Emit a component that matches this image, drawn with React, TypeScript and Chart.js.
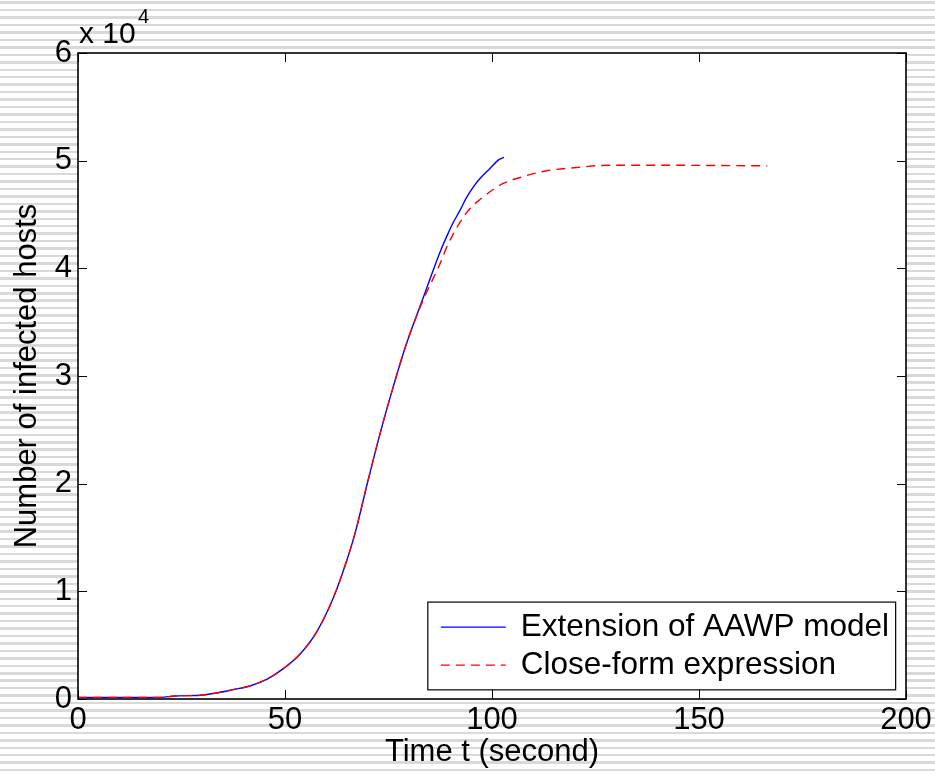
import React, { useEffect, useRef } from "react";
import { Chart, registerables } from "chart.js";

Chart.register(...registerables);

// Extension of AAWP model (blue, solid)
const tBlue = [0, 5, 10, 15, 20, 23.4, 29.5, 33.5, 37.5, 41.5, 45.6, 49.6, 53.6, 57.7, 61.7, 64.9, 67, 70, 73, 76, 79, 82.4, 83.8, 85.4, 86.6, 87.8, 89.4, 90.7, 92.3, 93.7, 95.5, 97.1, 99.5, 101.5, 102.9];
const vBlue = [150, 150, 150, 150, 150, 280, 350, 560, 870, 1210, 1830, 2820, 4160, 6260, 9420, 12840, 15500, 20200, 24700, 28800, 32600, 36250, 37700, 39400, 40650, 41850, 43250, 44300, 45400, 46480, 47570, 48340, 49270, 50050, 50300];

// Close-form expression (red, dashed)
const tRed = [0, 5, 10, 15, 20, 23.4, 29.5, 33.5, 37.5, 41.5, 45.6, 49.6, 53.6, 57.7, 61.7, 64.9, 67, 70, 73, 76, 79, 83.0, 85.0, 87.1, 89.1, 90.7, 92.7, 94.7, 97.1, 100.3, 102.7, 106.8, 113.2, 120.5, 128.5, 140, 150, 166.5];
const vRed = [150, 150, 150, 150, 150, 280, 350, 560, 870, 1210, 1830, 2820, 4160, 6260, 9420, 12840, 15500, 20200, 24700, 28800, 32600, 36720, 38420, 40120, 41990, 43230, 44530, 45550, 46390, 47320, 47880, 48440, 49060, 49370, 49580, 49580, 49560, 49520];

const seriesLabels = ["Extension of AAWP model", "Close-form expression"];
const xTicks = [0, 50, 100, 150, 200];
const yTicks = [0, 10000, 20000, 30000, 40000, 50000, 60000];
const xTitle = "Time t (second)";
const yTitle = "Number of infected hosts";

const FONT = "'Liberation Sans', Arial, Helvetica, sans-serif";

const framePlugin = {
  id: "frame",
  beforeDraw(chart: any) {
    const { ctx, chartArea: a } = chart;
    ctx.save();
    ctx.fillStyle = "#ffffff";
    ctx.fillRect(a.left, a.top, a.right - a.left, a.bottom - a.top);
    ctx.restore();
  },
  afterDraw(chart: any) {
    const { ctx, chartArea: a, scales } = chart;
    const xs = scales.x;
    const ys = scales.y;
    ctx.save();
    // inward ticks
    ctx.strokeStyle = "#000";
    ctx.lineWidth = 1;
    const L = 9;
    ctx.beginPath();
    xTicks.forEach((v) => {
      const px = Math.round(xs.getPixelForValue(v)) + 0.5;
      ctx.moveTo(px, a.bottom);
      ctx.lineTo(px, a.bottom - L);
      ctx.moveTo(px, a.top);
      ctx.lineTo(px, a.top + L);
    });
    yTicks.forEach((v) => {
      const py = Math.round(ys.getPixelForValue(v)) + 0.5;
      ctx.moveTo(a.left, py);
      ctx.lineTo(a.left + L, py);
      ctx.moveTo(a.right, py);
      ctx.lineTo(a.right - L, py);
    });
    ctx.stroke();
    // box
    ctx.lineWidth = 1.6;
    ctx.strokeRect(a.left, a.top, a.right - a.left, a.bottom - a.top);

    // exponent label
    ctx.fillStyle = "#000";
    ctx.textAlign = "left";
    ctx.textBaseline = "alphabetic";
    ctx.font = `30px ${FONT}`;
    ctx.fillText("x 10", a.left + 1, a.top - 10);
    ctx.font = `20px ${FONT}`;
    ctx.fillText("4", a.left + 60, a.top - 30);

    // legend
    const lx = xs.getPixelForValue(84.5);
    const rx = xs.getPixelForValue(197.5);
    const ty = ys.getPixelForValue(9000);
    const by = ys.getPixelForValue(850);
    ctx.fillStyle = "#fff";
    ctx.fillRect(lx, ty, rx - lx, by - ty);
    ctx.strokeStyle = "#000";
    ctx.lineWidth = 1.2;
    ctx.strokeRect(lx, ty, rx - lx, by - ty);
    const ds = chart.data.datasets;
    const rowY = [ty + 25, ty + 63];
    ds.forEach((d: any, i: number) => {
      ctx.strokeStyle = d.borderColor;
      ctx.lineWidth = d.borderWidth;
      ctx.setLineDash(d.borderDash || []);
      ctx.beginPath();
      ctx.moveTo(lx + 13, rowY[i]);
      ctx.lineTo(lx + 78, rowY[i]);
      ctx.stroke();
      ctx.setLineDash([]);
      ctx.fillStyle = "#000";
      ctx.font = `31.5px ${FONT}`;
      ctx.textBaseline = "middle";
      ctx.fillText(d.label, lx + 93, rowY[i]);
    });
    ctx.restore();
  },
};

export default function App() {
  const ref = useRef<HTMLCanvasElement | null>(null);

  useEffect(() => {
    document.body.style.margin = "0";
    const canvas = ref.current;
    if (!canvas) return;
    const chart = new Chart(canvas, {
      type: "line",
      data: {
        datasets: [
          {
            label: seriesLabels[0],
            data: tBlue.map((t, i) => ({ x: t, y: vBlue[i] })),
            borderColor: "#0000ff",
            borderWidth: 1.4,
            pointRadius: 0,
            fill: false,
            cubicInterpolationMode: "monotone",
            order: 2,
          },
          {
            label: seriesLabels[1],
            data: tRed.map((t, i) => ({ x: t, y: vRed[i] })),
            borderColor: "#ff0000",
            borderWidth: 1.4,
            borderDash: [9, 6],
            pointRadius: 0,
            fill: false,
            cubicInterpolationMode: "monotone",
            order: 1,
          },
        ],
      },
      options: {
        responsive: false,
        animation: false,
        layout: { padding: { left: 0, top: 53, right: 29, bottom: 0 } },
        plugins: { legend: { display: false }, tooltip: { enabled: false } },
        scales: {
          x: {
            type: "linear",
            min: 0,
            max: 200,
            afterBuildTicks: (s: any) => {
              s.ticks = xTicks.map((v) => ({ value: v }));
            },
            afterFit: (s: any) => {
              s.height = 75;
            },
            grid: { display: false, drawTicks: false },
            border: { display: false },
            ticks: {
              color: "#000",
              font: { family: FONT, size: 31 },
              padding: 3,
              maxRotation: 0,
              autoSkip: false,
            },
            title: {
              display: true,
              text: xTitle,
              color: "#000",
              font: { family: FONT, size: 31 },
              padding: { top: 0, bottom: 3 },
            },
          },
          y: {
            type: "linear",
            min: 0,
            max: 60000,
            afterBuildTicks: (s: any) => {
              s.ticks = yTicks.map((v) => ({ value: v }));
            },
            afterFit: (s: any) => {
              s.width = 78;
            },
            grid: { display: false, drawTicks: false },
            border: { display: false },
            ticks: {
              color: "#000",
              font: { family: FONT, size: 31 },
              padding: 6,
              callback: (v: any) => String(Number(v) / 10000),
            },
            title: {
              display: true,
              text: yTitle,
              color: "#000",
              font: { family: FONT, size: 31 },
              padding: { top: 9, bottom: 0 },
            },
          },
        },
      },
      plugins: [framePlugin],
    } as any);
    return () => chart.destroy();
  }, []);

  return (
    <div
      style={{
        width: 935,
        height: 774,
        background:
          "repeating-linear-gradient(to bottom, #ffffff 0px, #ffffff 1.5px, #d9d9d9 1.5px, #d9d9d9 4px, #ffffff 4px, #ffffff 7.45px)",
      }}
    >
      <canvas ref={ref} width={935} height={774} style={{ display: "block" }} />
    </div>
  );
}
